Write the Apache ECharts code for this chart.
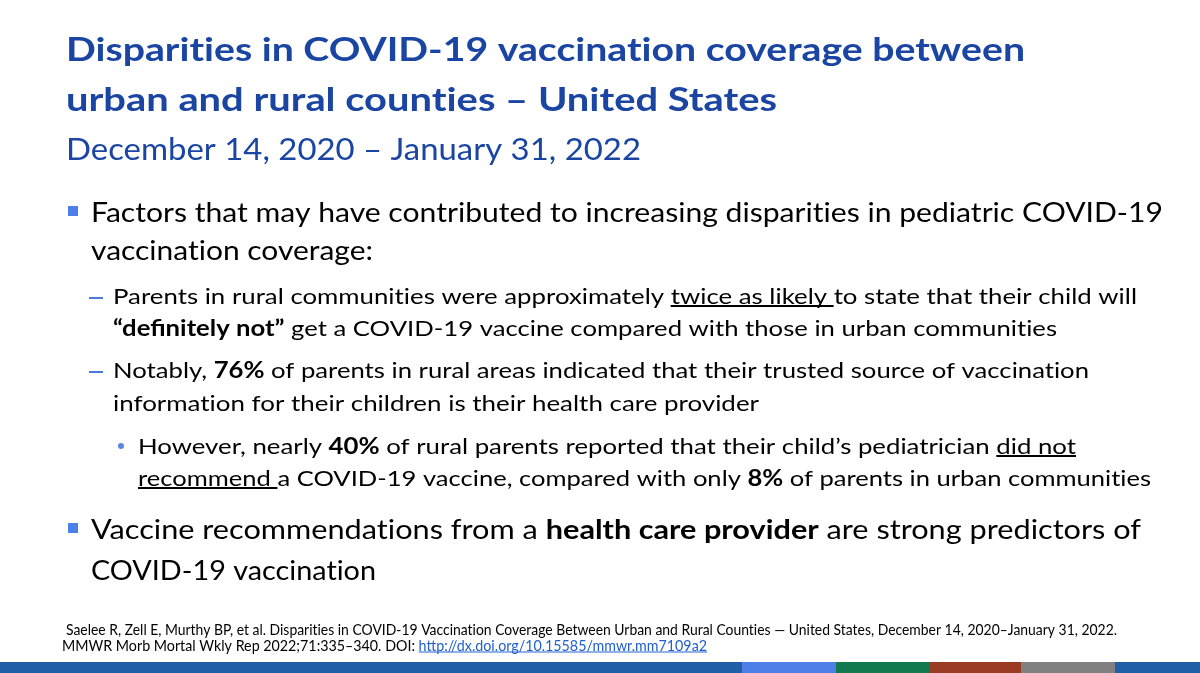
<!DOCTYPE html>
<html>
<head>
<meta charset="utf-8">
<script src="https://cdn.jsdelivr.net/npm/echarts@6/dist/echarts.min.js"></script>
<style>
    html, body { margin: 0; padding: 0; background: #fff; }
    #main { width: 1200px; height: 673px; }
</style>
</head>
<body>
<div id="main"></div>
<script>
// slide text: **bold**, __underline__, [[link]]
var titleLines = [
    'Disparities in COVID-19 vaccination coverage between',
    'urban and rural counties – United States'
];
var subtitleLines = ['December 14, 2020 – January 31, 2022'];
var factorLines = [
    'Factors that may have contributed to increasing disparities in pediatric COVID-19',
    'vaccination coverage:'
];
var parentLines = [
    'Parents in rural communities were approximately __twice as likely __to state that their child will',
    '**“definitely not”** get a COVID-19 vaccine compared with those in urban communities'
];
var notablyLines = [
    'Notably, **76%** of parents in rural areas indicated that their trusted source of vaccination',
    'information for their children is their health care provider'
];
var howeverLines = [
    'However, nearly **40%** of rural parents reported that their child’s pediatrician __did not__',
    '__recommend __a COVID-19 vaccine, compared with only **8%** of parents in urban communities'
];
var providerLines = [
    'Vaccine recommendations from a **health care provider** are strong predictors of',
    'COVID-19 vaccination'
];
var citationLines = [
    'Saelee R, Zell E, Murthy BP, et al. Disparities in COVID-19 Vaccination Coverage Between Urban and Rural Counties — United States, December 14, 2020–January 31, 2022.',
    'MMWR Morb Mortal Wkly Rep 2022;71:335–340. DOI: [[http://dx.doi.org/10.15585/mmwr.mm7109a2]]'
];

/**
 * 版式：每段的起点、行中心、目标行宽、字号
 */
var FONT = 'Lato';
var LINK_COLOR = '#1f5fd1';
var blocks = [
    {lines: titleLines, x: [66, 66], y: [50, 100], w: [959, 711], size: 33, bold: true, color: '#1a45a3'},
    {lines: subtitleLines, x: [66], y: [150], w: [575], size: 30, color: '#1a45a3'},
    {lines: factorLines, x: [91, 91], y: [214, 252], w: [1072, 282], size: 26, color: '#000', marker: 'square'},
    {lines: parentLines, x: [113, 113], y: [297, 329], w: [1024, 944], size: 22, color: '#000', marker: 'dash'},
    {lines: notablyLines, x: [113, 113], y: [371, 404], w: [976, 646], size: 22, color: '#000', marker: 'dash'},
    {lines: howeverLines, x: [138, 138], y: [447, 479], w: [938, 1013], size: 22, color: '#000', marker: 'dot'},
    {lines: providerLines, x: [91, 91], y: [531, 572], w: [1050, 285], size: 26, color: '#000', marker: 'square'},
    {lines: citationLines, x: [66, 62], y: [630, 646], w: [1051, 645], size: 15, color: '#000'}
];
var footerEdges = [0, 742, 836, 929, 1021, 1115, 1200];
var footerColors = ['#1f5fa8', '#4d7fe6', '#13794f', '#9c3b23', '#808080', '#1f5fa8'];

var ctx = document.createElement('canvas').getContext('2d');

function parse(str) {
    return str.split(/(\*\*.+?\*\*|__.+?__|\[\[.+?\]\])/).filter(function (p) { return p; }).map(function (p) {
        if (p.indexOf('**') === 0) return {t: p.slice(2, -2), bold: true};
        if (p.indexOf('__') === 0) return {t: p.slice(2, -2), under: true};
        if (p.indexOf('[[') === 0) return {t: p.slice(2, -2), link: true};
        return {t: p};
    });
}

function buildLine(str, x, y, width, b) {
    var children = [], cx = 0;
    var ul = Math.round(b.size * 0.42);
    parse(str).forEach(function (s) {
        var font = ((s.bold || b.bold) ? 'bold ' : 'normal ') + b.size + 'px ' + FONT;
        // Lato 自带 "ti" 连字，插入 ZWNJ 断开
        var txt = s.t.replace(/t(?=i)/g, 't\u200C');
        ctx.font = font;
        var w = ctx.measureText(txt).width;
        var color = s.link ? LINK_COLOR : b.color;
        children.push({
            type: 'text', x: cx, y: 0,
            style: {text: txt, font: font, fill: color, align: 'left', verticalAlign: 'middle'}
        });
        if (s.under || s.link) {
            children.push({
                type: 'line',
                shape: {x1: cx, y1: ul, x2: cx + w, y2: ul},
                style: {stroke: color, lineWidth: s.link ? 1 : 2}
            });
        }
        cx += w;
    });
    return {type: 'group', x: x, y: y, scaleX: width / cx, children: children};
}

function marker(kind, y) {
    if (kind === 'square') {
        return {type: 'rect', shape: {x: 68, y: y - 8, width: 10, height: 10}, style: {fill: '#4c7fe8'}};
    }
    if (kind === 'dash') {
        return {type: 'line', shape: {x1: 89, y1: y + 1, x2: 103, y2: y + 1}, style: {stroke: '#4a78d8', lineWidth: 2}};
    }
    return {type: 'circle', shape: {cx: 121, cy: y - 1, r: 3}, style: {fill: '#5b86e0'}};
}

var elements = [];
blocks.forEach(function (b) {
    b.lines.forEach(function (line, i) {
        elements.push(buildLine(line, b.x[i], b.y[i], b.w[i], b));
        if (i === 0 && b.marker) elements.push(marker(b.marker, b.y[i]));
    });
});
for (var k = 0; k < footerColors.length; k++) {
    elements.push({
        type: 'rect',
        shape: {x: footerEdges[k], y: 662, width: footerEdges[k + 1] - footerEdges[k], height: 11},
        style: {fill: footerColors[k]}
    });
}

var slide = echarts.init(document.getElementById('main'));
slide.setOption({
    backgroundColor: '#fff',
    animation: false,
    graphic: {elements: elements}
});
</script>
</body>
</html>
